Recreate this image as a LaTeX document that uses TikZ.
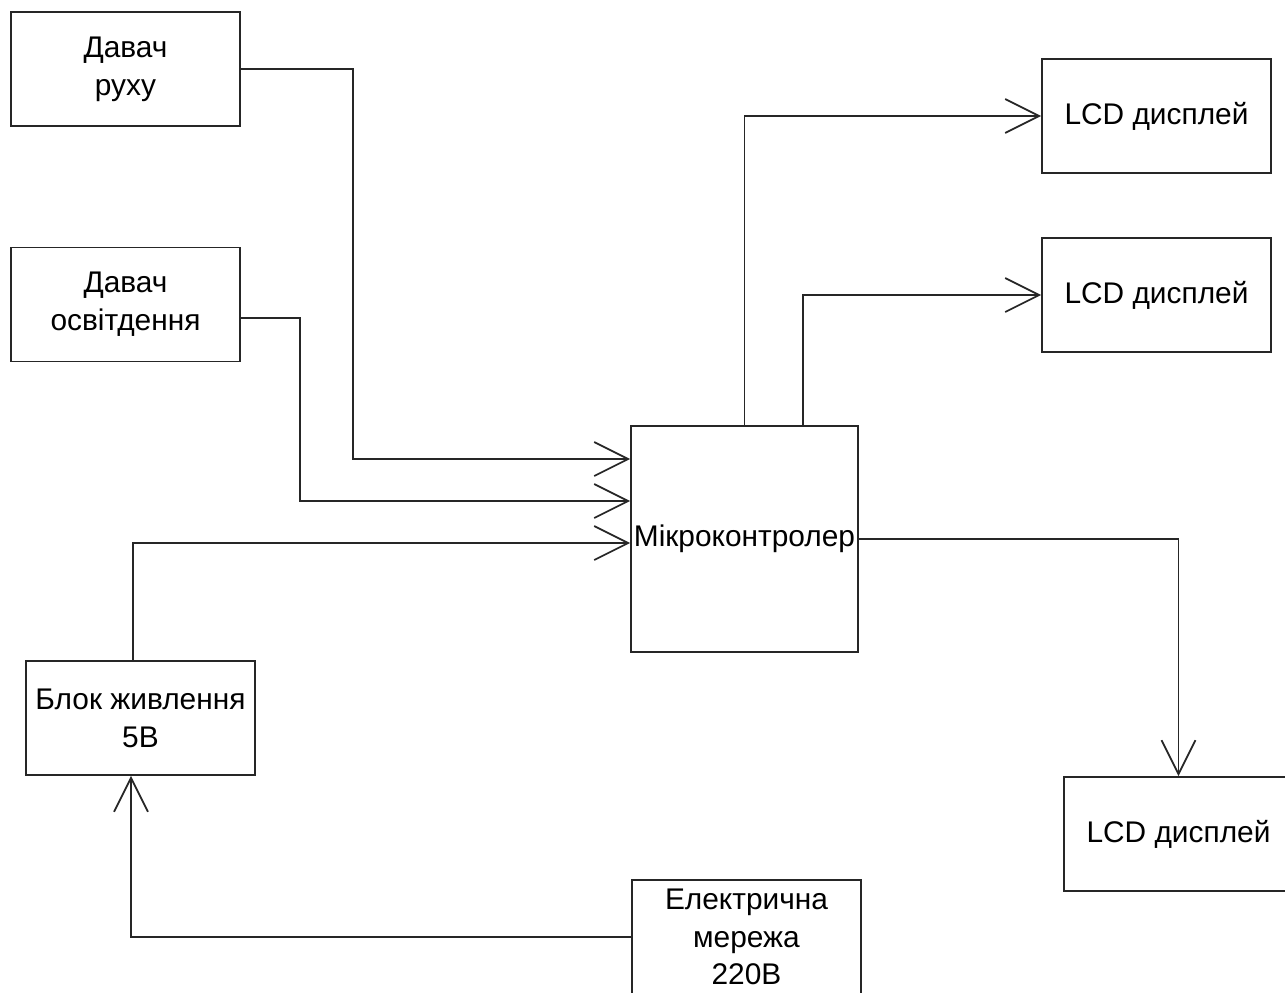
\documentclass[tikz,border=0pt]{standalone}
\usepackage{fontspec}
\setmainfont{Liberation Sans}
\usetikzlibrary{arrows.meta}

\begin{document}
\begin{tikzpicture}[x=0.02cm,y=-0.02cm,
    blok/.style={draw=black!85,line width=1pt,minimum width=4.58cm,minimum height=2.28cm,
        inner sep=0pt,align=center,font=\fontsize{17}{21.5}\selectfont},
    zv/.style={draw=black!85,line width=1pt,-{Straight Barb[length=0.68cm,width=0.68cm]}}]

    \useasboundingbox (0,0) rectangle (1285,992);
    \clip (0,0) rectangle (1285,992);

    % Inputs
    \node[blok] (ruh) at (125.5,69) {Давач\\руху};
    \node[blok] (osv) at (125.5,304.5) {Давач\\освітдення};
    \node[blok] (bzh) at (140.5,718) {Блок живлення\\5В};
    \node[blok] (mer) at (746.5,937) {Електрична\\мережа\\220В};

    % Controller
    \node[blok,minimum width=4.54cm,minimum height=4.52cm] (mcu) at (744.5,539) {Мікроконтролер};

    % Outputs
    \node[blok] (lcda) at (1156.5,116) {LCD дисплей};
    \node[blok] (lcdb) at (1156.5,295) {LCD дисплей};
    \node[blok] (lcdc) at (1178.5,834) {LCD дисплей};

    % Connections into the controller
    \draw[zv] (ruh.east) -- ++(112,0) |- (mcu.west |- 0,459);
    \draw[zv] ([yshift=-0.27cm]osv.east) -- ++(59,0) |- (mcu.west |- 0,501);
    \draw[zv] ([xshift=-0.15cm]bzh.north) |- (mcu.west |- 0,543);
    \draw[zv] (mer.west) -| ([xshift=-0.19cm]bzh.south);

    % Connections out of the controller
    \draw[zv] (mcu.north) |- (lcda.west);
    \draw[zv] (mcu.north -| 803,0) |- (lcdb.west);
    \draw[zv] (mcu.east) -| (lcdc.north);
\end{tikzpicture}
\end{document}
